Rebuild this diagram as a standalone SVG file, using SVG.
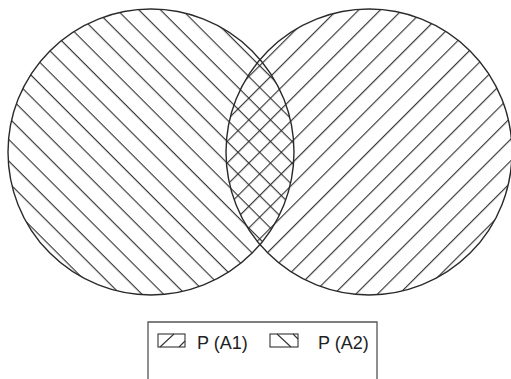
<svg xmlns="http://www.w3.org/2000/svg" width="511" height="379" viewBox="0 0 511 379">
  <style>
    .circ { fill: none; stroke: #2a2a2a; stroke-width: 1.4; }
    .hatch { stroke: #2a2a2a; stroke-width: 1.1; }
    .legend-line { fill: none; stroke: #555; stroke-width: 1.3; }
    .icon { fill: #fff; stroke: #333; stroke-width: 1.1; }
    .lbl { font-family: "Liberation Sans", Arial, sans-serif; font-size: 18px; fill: #222; }
  </style>
  <defs>
    <pattern id="hatchBack" patternUnits="userSpaceOnUse" width="15.3" height="15.3" patternTransform="rotate(45)">
      <line class="hatch" x1="-2" y1="0.6" x2="18" y2="0.6"/>
    </pattern>
    <pattern id="hatchFwd" patternUnits="userSpaceOnUse" width="15.3" height="15.3" patternTransform="rotate(-45)">
      <line class="hatch" x1="-2" y1="0.6" x2="18" y2="0.6"/>
    </pattern>
  </defs>
  <rect width="511" height="379" fill="#fff"/>
  <g id="A1">
    <circle cx="151" cy="152" r="143" fill="url(#hatchBack)"/>
    <circle class="circ" cx="151" cy="152" r="143"/>
  </g>
  <g id="A2">
    <circle cx="369" cy="152" r="143" fill="url(#hatchFwd)"/>
    <circle class="circ" cx="369" cy="152" r="143"/>
  </g>
  <g id="connectors"></g>
  <g id="legend">
    <path class="legend-line" d="M148,379 V322 H377 V379"/>
    <rect class="icon" x="158" y="334" width="27" height="13"/>
    <line class="icon" x1="160" y1="347" x2="174" y2="334"/>
    <line class="icon" x1="179" y1="347" x2="185" y2="341"/>
    <text class="lbl" x="197" y="349">P (A1)</text>
    <rect class="icon" x="270" y="334" width="28" height="13"/>
    <line class="icon" x1="277" y1="334" x2="291" y2="347"/>
    <line class="icon" x1="293" y1="334" x2="298" y2="339"/>
    <text class="lbl" x="318" y="349">P (A2)</text>
  </g>
</svg>
